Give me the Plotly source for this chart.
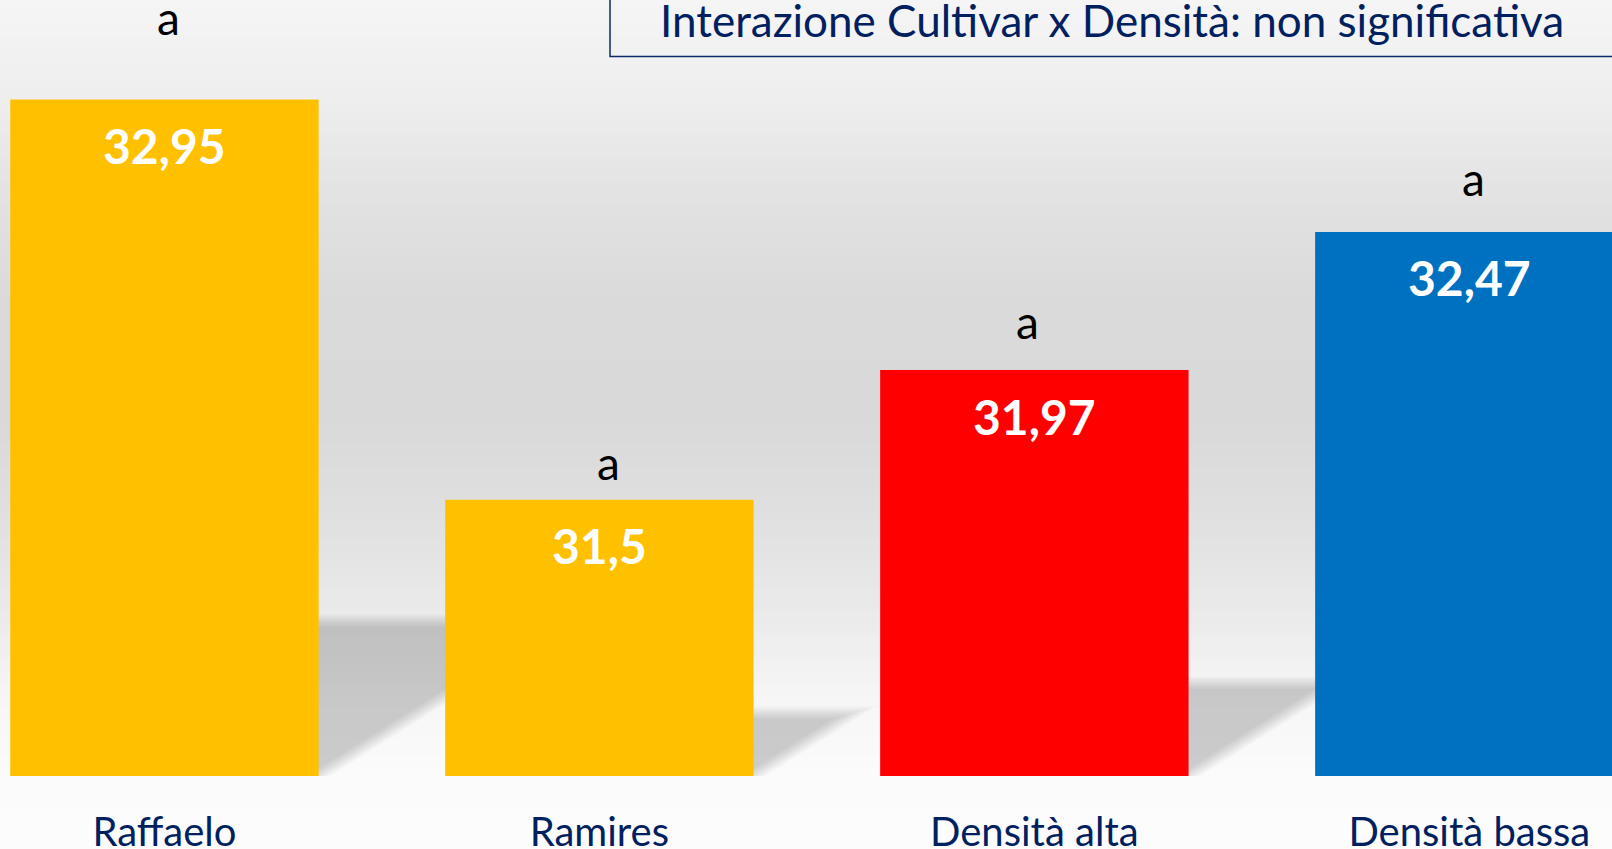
import plotly.graph_objects as go

# ---- data ----
categories = ["Raffaelo", "Ramires", "Densità alta", "Densità bassa"]
values = [32.95, 31.5, 31.97, 32.47]
value_labels = ["32,95", "31,5", "31,97", "32,47"]
bar_colors = ["#FFC000", "#FFC000", "#FF0000", "#0070C0"]
letters = ["a", "a", "a", "a"]
letter_x = [0.01, 1.02, 1.985, 3.01]
letter_y = [33.245, 31.635, 32.145, 32.665]
title_text = "Interazione Cultivar x Densità: non significativa"

# ---- geometry ----
W, H = 1612, 849
MB = 73
PH = H - MB
Y0, Y1 = 30.5, 33.31
X0, X1 = -0.378, 3.328
BW = 0.709
px_x = W / (X1 - X0)
px_y = PH / (Y1 - Y0)

xs = list(range(len(categories)))

fig = go.Figure()
fig.add_trace(go.Bar(
    x=xs, y=values, width=BW,
    marker=dict(color=bar_colors, line=dict(width=0)),
    hoverinfo="skip",
))

shapes = []
# background gradient (vertical)
stops = [(0, 245), (100, 238), (200, 226), (300, 218), (420, 217),
         (520, 224), (610, 234), (700, 246), (776, 251), (849, 252)]
def gray_at(y):
    for (ya, ga), (yb, gb) in zip(stops[:-1], stops[1:]):
        if ya <= y <= yb:
            t = (y - ya) / (yb - ya)
            return ga + (gb - ga) * t
    return stops[-1][1]

step = 6
y = 0
while y < H:
    g = int(round(gray_at(y + step / 2)))
    top = 1 - y / PH
    bot = 1 - min(y + step + 1, H) / PH
    shapes.append(dict(type="rect", xref="paper", yref="paper",
                       x0=-0.01, x1=1.01, y0=bot, y1=top,
                       fillcolor=f"rgb({g},{g},{g})", line=dict(width=0),
                       layer="below"))
    y += step

# bar floor shadows (blurred parallelograms)
slope = 0.63
sin_a = slope / (1 + slope ** 2) ** 0.5
for i, v in enumerate(values):
    h_px = 0.23 * (v - Y0) * px_y
    xl = i - BW / 2
    xr = i + BW / 2
    for d in [-6, -4, -2, 0, 2, 4, 6]:
        top_px = h_px + d
        shift = d / sin_a
        bx = xr + shift / px_x
        cx = xr + (shift + top_px / slope) / px_x
        ty = Y0 + top_px / px_y
        dxl = xl + (top_px / slope) / px_x
        path = (f"M {xl} {Y0} L {bx} {Y0} L {cx} {ty} L {dxl} {ty} Z")
        shapes.append(dict(type="path", xref="x", yref="y", path=path,
                           fillcolor="rgba(0,0,0,0.028)", line=dict(width=0),
                           layer="below"))

# title box
shapes.append(dict(type="rect", xref="paper", yref="paper",
                   x0=610 / W, x1=1.02, y0=1 - 56.5 / PH, y1=1.05,
                   line=dict(color="#0d2a6b", width=1.5),
                   fillcolor="rgba(0,0,0,0)", layer="above"))

annotations = []
for i, v in enumerate(values):
    annotations.append(dict(x=i, y=v, xref="x", yref="y", text=value_labels[i],
                            showarrow=False, xanchor="center", yanchor="middle",
                            yshift=-46,
                            font=dict(family="Lato", size=48, color="white",
                                      weight="bold")))
    annotations.append(dict(x=letter_x[i], y=letter_y[i], xref="x", yref="y",
                            text=letters[i], showarrow=False, xanchor="center",
                            yanchor="middle",
                            font=dict(family="Lato", size=46, color="black")))

annotations.append(dict(x=1112 / W, y=1 - 20 / PH, xref="paper", yref="paper",
                        text=title_text, showarrow=False, xanchor="center",
                        yanchor="middle",
                        font=dict(family="Lato", size=44, color="#002060")))

fig.update_layout(
    width=W, height=H,
    margin=dict(l=0, r=0, t=0, b=MB, autoexpand=False),
    paper_bgcolor="rgb(252,252,252)",
    plot_bgcolor="rgba(0,0,0,0)",
    showlegend=False,
    shapes=shapes,
    annotations=annotations,
    xaxis=dict(range=[X0, X1], tickmode="array", tickvals=xs,
               ticktext=categories, showgrid=False, zeroline=False,
               showline=False, ticks="outside", ticklen=21,
               tickcolor="rgba(0,0,0,0)", automargin=False,
               tickfont=dict(family="Lato", size=40, color="#002060")),
    yaxis=dict(range=[Y0, Y1], visible=False, showgrid=False,
               automargin=False),
)

fig.write_html("out.html", config={"displayModeBar": False},
               post_script="document.body.style.margin='0';"
                           "document.body.style.overflow='hidden';")
